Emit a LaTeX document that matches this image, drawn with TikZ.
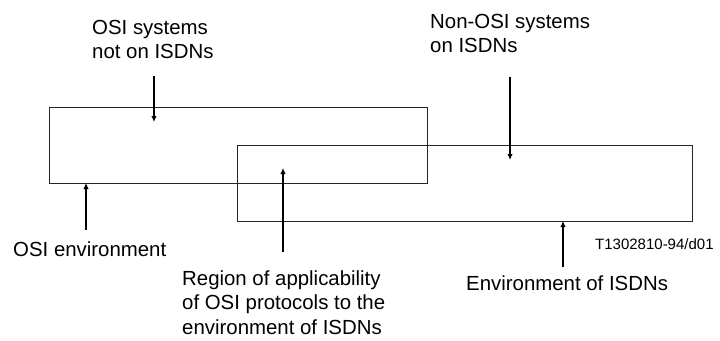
\documentclass[tikz,border=0pt]{standalone}
\usepackage{fontspec}
\setmainfont{Liberation Sans}
\usepackage{tikz}
\usetikzlibrary{arrows.meta, positioning, calc}

\tikzset{
    envbox/.style={line width=0.9pt, draw=black!85},
    pointer/.style={line width=1.8pt, -{Latex[length=6pt,width=5.5pt]}},
    caption/.style={anchor=base west, inner sep=0pt, align=left, font=\fontsize{20.4}{24.5}\selectfont},
    figref/.style={anchor=base west, inner sep=0pt, font=\fontsize{15}{18}\selectfont}
}

\begin{document}
\begin{tikzpicture}[x=1pt, y=-1pt]
    \useasboundingbox (0,0) rectangle (720,340);

    % Environments
    \coordinate (osiTL) at (49,107);
    \coordinate (osiBR) at (427,183);
    \coordinate (isdnTL) at (237,145);
    \coordinate (isdnBR) at (692,221);

    \draw [envbox] (osiTL) rectangle (osiBR);
    \draw [envbox] (isdnTL) rectangle (isdnBR);

    % Labels (base = last line)
    \node [caption] (osisys) at (92,58.5) {OSI systems\\not on ISDNs};
    \node [caption] (nonosi) at (430,52.5) {Non-OSI systems\\on ISDNs};
    \node [caption] (osienv) at (13,256) {OSI environment};
    \node [caption] (region) at (182,334) {Region of applicability\\of OSI protocols to the\\environment of ISDNs};
    \node [caption] (isdnenv) at (466,290) {Environment of ISDNs};
    \node [figref] (ref) at (595,249) {T1302810-94/d01};

    % Arrow ends
    \coordinate (a1) at (154,76);  \coordinate (a2) at (154,122);
    \coordinate (b1) at (510,77);  \coordinate (b2) at (510,160);
    \coordinate (c1) at (86,230);  \coordinate (c2) at (86,183);
    \coordinate (d1) at (283,252); \coordinate (d2) at (283,168);
    \coordinate (e1) at (563,267); \coordinate (e2) at (563,221);

    % Arrows
    \draw [pointer] (a1) -- (a2);
    \draw [pointer] (b1) -- (b2);
    \draw [pointer] (c1) -- (c2);
    \draw [pointer] (d1) -- (d2);
    \draw [pointer] (e1) -- (e2);

\end{tikzpicture}
\end{document}
